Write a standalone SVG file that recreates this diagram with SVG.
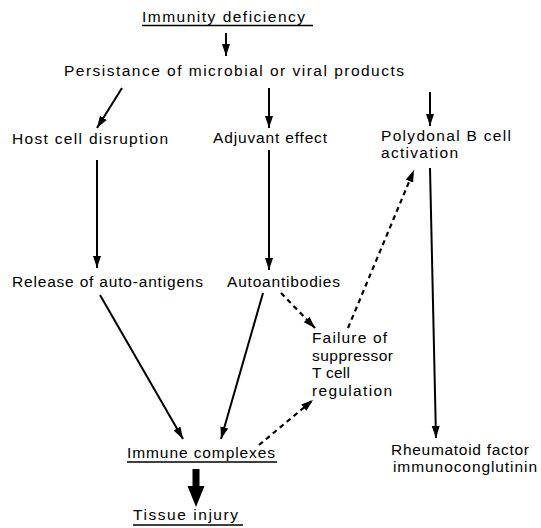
<svg xmlns="http://www.w3.org/2000/svg" width="541" height="528" viewBox="0 0 541 528">
<style>
text{font-family:"Liberation Sans",Arial,sans-serif;font-size:15.5px;fill:#000}
.ln{stroke:#000;stroke-width:2;fill:none}
.ds{stroke:#000;stroke-width:2.2;fill:none;stroke-dasharray:5 4}
.ul{stroke:#000;stroke-width:1.5}
</style>
<defs>
<marker id="ah" markerUnits="userSpaceOnUse" markerWidth="13" markerHeight="9" refX="12" refY="4.5" orient="auto">
<path d="M0,0.5 L12,4.5 L0,8.5 z" fill="#000"/>
</marker>
</defs>
<rect width="541" height="528" fill="#fff"/>
<g id="connectors">
<line class="ln" x1="226" y1="33" x2="226" y2="56" marker-end="url(#ah)"/>
<line class="ln" x1="122" y1="88" x2="97" y2="128" marker-end="url(#ah)"/>
<line class="ln" x1="269" y1="88" x2="269" y2="128" marker-end="url(#ah)"/>
<line class="ln" x1="430" y1="92" x2="430" y2="126" marker-end="url(#ah)"/>
<line class="ln" x1="97" y1="160" x2="97" y2="268" marker-end="url(#ah)"/>
<line class="ln" x1="269" y1="150" x2="269" y2="270" marker-end="url(#ah)"/>
<line class="ln" x1="430" y1="168" x2="436" y2="438" marker-end="url(#ah)"/>
<line class="ln" x1="100" y1="295" x2="183" y2="439" marker-end="url(#ah)"/>
<line class="ln" x1="263" y1="293" x2="221" y2="439" marker-end="url(#ah)"/>
<line class="ds" x1="281" y1="293" x2="315" y2="328" marker-end="url(#ah)"/>
<line class="ds" x1="348" y1="328" x2="414" y2="170" marker-end="url(#ah)"/>
<line class="ds" x1="259" y1="445" x2="313" y2="400" marker-end="url(#ah)"/>
<path d="M192.5,469 H199.5 V486 H204.5 L196,507 L187.5,486 H192.5 z" fill="#000"/>
</g>
<g id="immunity-deficiency">
<text x="142" y="22" textLength="163" lengthAdjust="spacing">Immunity deficiency</text>
<line class="ul" x1="142" y1="25.5" x2="313" y2="25.5"/>
</g>
<g id="persistance">
<text x="64" y="76" textLength="340" lengthAdjust="spacing">Persistance of microbial or viral products</text>
</g>
<g id="host-cell-disruption">
<text x="12" y="144" textLength="156" lengthAdjust="spacing">Host cell disruption</text>
</g>
<g id="adjuvant-effect">
<text x="213" y="143" textLength="114" lengthAdjust="spacing">Adjuvant effect</text>
</g>
<g id="polyclonal">
<text x="381" y="141" textLength="130" lengthAdjust="spacing">Polydonal B cell</text>
<text x="381" y="158" textLength="77" lengthAdjust="spacing">activation</text>
</g>
<g id="release">
<text x="12" y="287" textLength="191" lengthAdjust="spacing">Release of auto-antigens</text>
</g>
<g id="autoantibodies">
<text x="227" y="287" textLength="113" lengthAdjust="spacing">Autoantibodies</text>
</g>
<g id="failure">
<text x="312" y="343" textLength="75" lengthAdjust="spacing">Failure of</text>
<text x="312" y="361" textLength="81" lengthAdjust="spacing">suppressor</text>
<text x="312" y="378" textLength="38" lengthAdjust="spacing">T cell</text>
<text x="312" y="396" textLength="80" lengthAdjust="spacing">regulation</text>
</g>
<g id="immune-complexes">
<text x="127" y="458" textLength="148" lengthAdjust="spacing">Immune complexes</text>
<line class="ul" x1="127" y1="462" x2="277" y2="462"/>
</g>
<g id="tissue-injury">
<text x="133" y="520" textLength="105" lengthAdjust="spacing">Tissue injury</text>
<line class="ul" x1="133" y1="525" x2="243" y2="525"/>
</g>
<g id="rheumatoid">
<text x="391" y="455" textLength="138" lengthAdjust="spacing">Rheumatoid factor</text>
<text x="393" y="472" textLength="144" lengthAdjust="spacing">immunoconglutinin</text>
</g>
</svg>
